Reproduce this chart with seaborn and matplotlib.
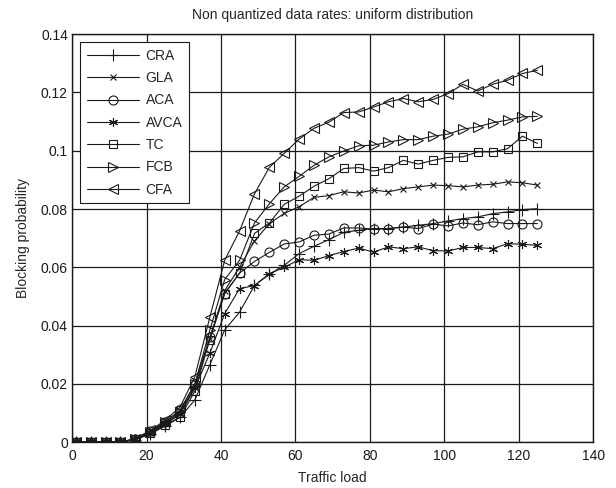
import numpy as np
import pandas as pd
import seaborn as sns
import matplotlib.pyplot as plt
from matplotlib.ticker import FormatStrFormatter

# traffic load points (1, 5, ..., 125)
load = [1, 5, 9, 13, 17, 21, 25, 29, 33, 37, 41, 45, 49, 53, 57, 61,
        65, 69, 73, 77, 81, 85, 89, 93, 97, 101, 105, 109, 113, 117, 121, 125]

cra = [0, 0, 0, 0, 0.0008, 0.0028, 0.0055, 0.0085, 0.0145, 0.0265, 0.0385, 0.0446,
       0.0538, 0.0576, 0.0607, 0.0647, 0.0672, 0.0695, 0.0720, 0.0727, 0.0733, 0.0733,
       0.0738, 0.0744, 0.0750, 0.0759, 0.0767, 0.0773, 0.0784, 0.0790, 0.0798, 0.0801]
gla = [0, 0, 0, 0, 0.0009, 0.0032, 0.0065, 0.0100, 0.0190, 0.0355, 0.0520, 0.0600,
       0.0690, 0.0750, 0.0785, 0.0808, 0.0840, 0.0846, 0.0859, 0.0855, 0.0865, 0.0859,
       0.0870, 0.0876, 0.0882, 0.0880, 0.0876, 0.0882, 0.0885, 0.0893, 0.0890, 0.0882]
aca = [0, 0, 0, 0, 0.0012, 0.0038, 0.0070, 0.0110, 0.0200, 0.0360, 0.0510, 0.0580,
       0.0620, 0.0651, 0.0680, 0.0687, 0.0710, 0.0714, 0.0735, 0.0735, 0.0731, 0.0733,
       0.0738, 0.0733, 0.0748, 0.0742, 0.0752, 0.0746, 0.0756, 0.0750, 0.0750, 0.0750]
avca = [0, 0, 0, 0, 0.0010, 0.0030, 0.0062, 0.0095, 0.0185, 0.0305, 0.0441, 0.0527,
        0.0537, 0.0578, 0.0600, 0.0626, 0.0624, 0.0640, 0.0654, 0.0666, 0.0652, 0.0670,
        0.0664, 0.0670, 0.0657, 0.0656, 0.0668, 0.0668, 0.0664, 0.0681, 0.0679, 0.0675]
tc = [0, 0, 0, 0, 0.0010, 0.0030, 0.0060, 0.0085, 0.0175, 0.0352, 0.0510, 0.0580,
      0.0716, 0.0752, 0.0816, 0.0844, 0.0878, 0.0904, 0.0939, 0.0942, 0.0930, 0.0942,
      0.0967, 0.0954, 0.0967, 0.0977, 0.0979, 0.0996, 0.0996, 0.1007, 0.1050, 0.1025]
fcb = [0, 0, 0, 0, 0.0010, 0.0035, 0.0068, 0.0105, 0.0200, 0.0384, 0.0558, 0.0624,
       0.0752, 0.0818, 0.0876, 0.0912, 0.0950, 0.0979, 0.0999, 0.1017, 0.1019, 0.1030,
       0.1038, 0.1038, 0.1050, 0.1057, 0.1074, 0.1082, 0.1096, 0.1105, 0.1116, 0.1118]
cfa = [0, 0, 0, 0, 0.0012, 0.0040, 0.0075, 0.0120, 0.0225, 0.0428, 0.0624, 0.0725,
       0.0852, 0.0943, 0.0991, 0.1040, 0.1077, 0.1098, 0.1131, 0.1133, 0.1150, 0.1168,
       0.1179, 0.1168, 0.1176, 0.1196, 0.1228, 0.1205, 0.1228, 0.1242, 0.1265, 0.1276]

names = ['CRA', 'GLA', 'ACA', 'AVCA', 'TC', 'FCB', 'CFA']
series = [cra, gla, aca, avca, tc, fcb, cfa]
# matlab style markers, asterisk drawn as 6 spokes
markers = ['+', 'x', 'o', (6, 2, 0), 's', '>', '<']
msizes = [8, 4, 6.5, 6.5, 6, 7, 7]

sns.set_theme(style='whitegrid')
plt.rcParams['font.family'] = ['Liberation Sans', 'DejaVu Sans']

fig, ax = plt.subplots(figsize=(6.16, 4.88), dpi=100)
fig.subplots_adjust(left=0.117, right=0.963, top=0.930, bottom=0.094)

for name, vals, m, ms in zip(names, series, markers, msizes):
    sns.lineplot(x=load, y=vals, ax=ax, label=name, color='k', linewidth=0.8,
                 marker=m, markersize=ms, markerfacecolor='none',
                 markeredgecolor='k', markeredgewidth=0.8)

ax.set_xlim(0, 140)
ax.set_ylim(0, 0.14)
ax.set_xticks(np.arange(0, 141, 20))
ax.set_yticks(np.arange(0, 0.141, 0.02))
ax.yaxis.set_major_formatter(FormatStrFormatter('%g'))
ax.grid(True, color='k', linewidth=0.9, linestyle='-')
for s in ax.spines.values():
    s.set_color('k')
    s.set_linewidth(1.0)
ax.tick_params(labelsize=10, length=0, pad=3, colors='k')
ax.tick_params(axis='x', pad=5)

ax.set_xlabel('Traffic load', fontsize=10, labelpad=6)
ax.set_ylabel('Blocking probability', fontsize=10, labelpad=8)
ax.set_title('Non quantized data rates: uniform distribution', fontsize=10, pad=11)

leg = ax.legend(loc='upper left', fontsize=10, frameon=True, fancybox=False,
                edgecolor='k', framealpha=1, handlelength=3.8, handletextpad=0.45,
                labelspacing=0.6, borderaxespad=0.6, borderpad=0.45)
leg.get_frame().set_linewidth(0.8)

fig.savefig('out.png', dpi=100)
